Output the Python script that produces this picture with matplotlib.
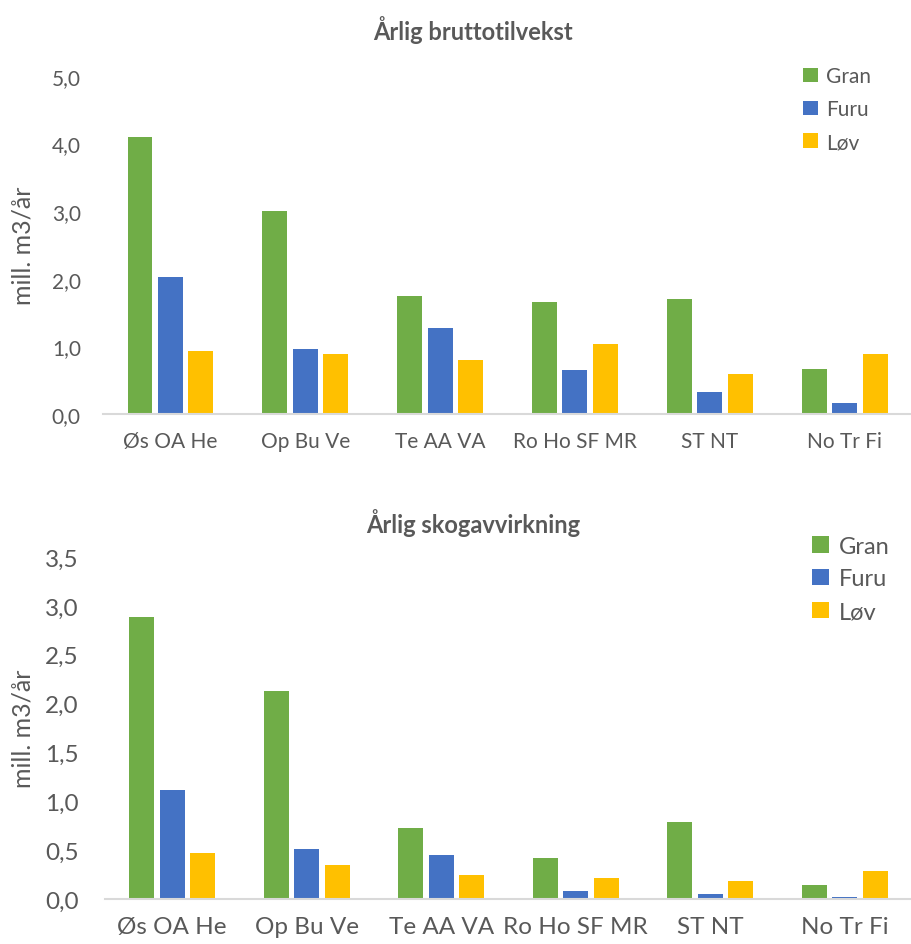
import matplotlib.pyplot as plt
import numpy as np

plt.rcParams['font.family'] = ['Lato', 'DejaVu Sans']

regions = ['Øs OA He', 'Op Bu Ve', 'Te AA VA', 'Ro Ho SF MR', 'ST NT', 'No Tr Fi']
series = ['Gran', 'Furu', 'Løv']
colors = ['#70AD47', '#4472C4', '#FFC000']

# Årlig bruttotilvekst (mill. m3/år)
tilv_gran = [4.10, 3.00, 1.74, 1.66, 1.70, 0.67]
tilv_furu = [2.03, 0.96, 1.27, 0.65, 0.32, 0.16]
tilv_lov = [0.93, 0.89, 0.80, 1.03, 0.59, 0.89]

# Årlig skogavvirkning (mill. m3/år)
avv_gran = [2.89, 2.13, 0.73, 0.42, 0.79, 0.14]
avv_furu = [1.12, 0.51, 0.45, 0.08, 0.05, 0.02]
avv_lov = [0.47, 0.35, 0.25, 0.22, 0.18, 0.29]

txt = '#595959'
fig = plt.figure(figsize=(9.12, 9.45), dpi=100)
ax1 = fig.add_axes([0.113, 0.561, 0.887, 0.3577])
ax2 = fig.add_axes([0.115, 0.0476, 0.885, 0.3619])


def draw(ax, data, ymax, step, fs, leg_fs, leg_pos, spacing, lab_x, ypad):
    x = np.arange(len(regions))
    w = 0.185
    off = 0.226
    for i, (vals, name) in enumerate(zip(data, series)):
        ax.bar(x + (i - 1) * off, vals, w, color=colors[i], label=name, zorder=2)
    ax.set_xlim(-0.5, len(regions) - 0.5)
    ax.set_ylim(0, ymax)
    ticks = np.arange(0, ymax + 1e-9, step)
    ax.set_yticks(ticks)
    ax.set_yticklabels([('%.1f' % t).replace('.', ',') for t in ticks], fontsize=fs, color=txt)
    ax.set_xticks(x)
    ax.set_xticklabels(regions, fontsize=fs, color=txt)
    ax.tick_params(length=0, pad=12)
    ax.tick_params(axis='y', pad=ypad)
    for s in ['top', 'right', 'left']:
        ax.spines[s].set_visible(False)
    ax.spines['bottom'].set_color('#D9D9D9')
    ax.spines['bottom'].set_linewidth(1.5)
    ax.set_ylabel('mill. m3/år', fontsize=18, color=txt, va='center')
    ax.yaxis.set_label_coords(lab_x, 0.5)
    ax.legend(loc='upper left', bbox_to_anchor=leg_pos, frameon=False, fontsize=leg_fs,
              handlelength=0.7, handleheight=0.7, handletextpad=0.4, labelspacing=spacing,
              labelcolor=txt, borderaxespad=0)


draw(ax1, [tilv_gran, tilv_furu, tilv_lov], 5.0, 1.0, 15, 15, (0.855, 1.053), 0.62, -0.099, 16)
draw(ax2, [avv_gran, avv_furu, avv_lov], 3.5, 0.5, 17.5, 17, (0.865, 1.09), 0.5, -0.102, 19)

fig.text(0.519, 0.968, 'Årlig bruttotilvekst', ha='center', va='center',
         fontsize=17, fontweight='bold', color=txt)
fig.text(0.519, 0.4466, 'Årlig skogavvirkning', ha='center', va='center',
         fontsize=17, fontweight='bold', color=txt)

fig.savefig('out.png', dpi=100)
